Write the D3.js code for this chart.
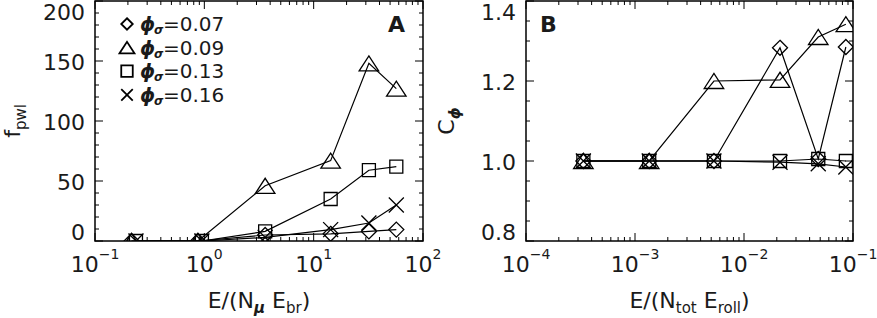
<!DOCTYPE html>
<html>
<head>
<meta charset="utf-8">
<script src="https://cdn.jsdelivr.net/npm/d3@7"></script>
<style>
  body { margin: 0; background: #fff; }
  svg { display: block; }
  text { font-family: "DejaVu Sans", "Liberation Sans", sans-serif; fill: #1a1a1a; }
</style>
</head>
<body>
<svg width="877" height="318"></svg>
<script>
// ---- data ----
var phiLabels = ["0.07", "0.09", "0.13", "0.16"];
var markerTypes = ["diamond", "triangle", "square", "cross"];

// panel A : f_pwl vs E/(N_mu E_br)
var xA_lo = [0.216, 0.874, 3.6, 14.3, 32, 57];
var xA_hi = [0.237, 0.95, 3.6, 14.3, 32, 57];
var fA_007 = [0, 0, 5, 6, 8, 9.5];
var fA_009 = [0, 0, 46, 67, 148, 127];
var fA_013 = [0, 0, 8, 35, 59, 62];
var fA_016 = [0, 0, 3, 9.5, 15, 30];

// panel B : C_phi vs E/(N_tot E_roll)
var xB = [3.36e-4, 1.35e-3, 5.3e-3, 0.0214, 0.048, 0.086];
var cB_007 = [1.0, 1.0, 1.0, 1.283, 1.005, 1.285];
var cB_009 = [1.0, 1.0, 1.2, 1.203, 1.31, 1.342];
var cB_013 = [1.0, 1.0, 1.0, 1.0, 1.005, 1.0];
var cB_016 = [1.0, 1.0, 1.0, 0.997, 0.993, 0.985];

var svg = d3.select("svg");

// marker paths, s = overall size
function markerPath(type, s) {
  var h = s / 2;
  if (type == "diamond") return "M0," + (-h) + "L" + h + ",0L0," + h + "L" + (-h) + ",0Z";
  if (type == "triangle") return "M" + (-h * 1.3) + "," + h + "L0," + (-h) + "L" + (h * 1.3) + "," + h + "Z";
  if (type == "square") return "M" + (-h) + "," + (-h) + "h" + s + "v" + s + "h" + (-s) + "Z";
  return "M" + (-h) + "," + (-h) + "L" + h + "," + h + "M" + (-h) + "," + h + "L" + h + "," + (-h);
}
var markerSize = {diamond: 15, triangle: 15, square: 13, cross: 15};

function supLabel(sel, exp) {
  sel.append("tspan").text("10");
  sel.append("tspan").attr("dy", -13).attr("font-size", 14).text(exp < 0 ? "\u2212" + (-exp) : exp);
}

function drawPanel(opt) {
  var x = opt.x, y = opt.y;
  var x0 = x.range()[0], x1 = x.range()[1], yb = y.range()[0], yt = y.range()[1];
  var g = svg.append("g");

  var clipId = "clip" + opt.id;
  svg.append("clipPath").attr("id", clipId).append("rect")
    .attr("x", x0).attr("y", yt).attr("width", x1 - x0).attr("height", yb - yt);

  // log x ticks, bottom and top
  x.ticks().forEach(function(t) {
    var lg = Math.log10(t), major = Math.abs(lg - Math.round(lg)) < 1e-9;
    var len = major ? 8 : 4, px = x(t);
    g.append("line").attr("x1", px).attr("x2", px).attr("y1", yb).attr("y2", yb - len).attr("stroke", "#000");
    g.append("line").attr("x1", px).attr("x2", px).attr("y1", yt).attr("y2", yt + len).attr("stroke", "#000");
    if (major) {
      var lab = g.append("text").attr("x", px).attr("y", 272).attr("text-anchor", "middle").attr("font-size", 22);
      supLabel(lab, Math.round(lg));
    }
  });

  // linear y ticks, left and right
  opt.minor.forEach(function(t) {
    var py = y(t);
    var major = opt.major.some(function(m) { return Math.abs(m - t) < 1e-9; });
    var len = major ? 8 : 4;
    g.append("line").attr("x1", x0).attr("x2", x0 + len).attr("y1", py).attr("y2", py).attr("stroke", "#000");
    g.append("line").attr("x1", x1).attr("x2", x1 - len).attr("y1", py).attr("y2", py).attr("stroke", "#000");
  });
  opt.major.forEach(function(t) {
    var py = Math.max(yt + 11.5, Math.min(yb - 9, y(t) + 1));
    g.append("text").attr("x", x0 - 10).attr("y", py).attr("dy", "0.36em")
      .attr("text-anchor", "end").attr("font-size", 22).text(opt.fmt(t));
  });

  // box
  g.append("rect").attr("x", x0).attr("y", yt).attr("width", x1 - x0).attr("height", yb - yt)
    .attr("fill", "none").attr("stroke", "#000").attr("stroke-width", 1.5);

  // series
  var dg = g.append("g").attr("clip-path", "url(#" + clipId + ")");
  opt.series.forEach(function(s) {
    var pts = s.xs.map(function(v, i) { return [x(v), y(s.ys[i])]; });
    dg.append("path").attr("d", d3.line()(pts)).attr("fill", "none")
      .attr("stroke", "#000").attr("stroke-width", 1.2);
    pts.forEach(function(p) {
      dg.append("path").attr("d", markerPath(s.marker, markerSize[s.marker]))
        .attr("transform", "translate(" + p[0] + "," + p[1] + ")")
        .attr("fill", "none").attr("stroke", "#000").attr("stroke-width", 1.3);
    });
  });

  // axis titles
  var xt = g.append("text").attr("x", (x0 + x1) / 2).attr("y", 308).attr("text-anchor", "middle").attr("font-size", 22);
  opt.xTitle.forEach(function(p) {
    var ts = xt.append("tspan").text(p[0]);
    if (p[1]) ts.attr("font-size", 15).attr("dy", 5);
    else if (p[2]) ts.attr("dy", -5);
    if (p[3]) ts.attr("font-weight", "bold").attr("font-style", "italic");
  });
  var yTitle = g.append("text").attr("transform", "translate(" + opt.yTitleX + "," + ((yt + yb) / 2) + ") rotate(-90)")
    .attr("text-anchor", "middle").attr("font-size", 22);
  yTitle.append("tspan").text(opt.yTitle[0]);
  var sub = yTitle.append("tspan").attr("font-size", 15).attr("dy", 6).text(opt.yTitle[1]);
  if (opt.yTitle[2]) sub.attr("font-weight", "bold").attr("font-style", "italic");

  // panel letter
  g.append("text").attr("x", opt.letterX).attr("y", 32).attr("text-anchor", opt.letterAnchor)
    .attr("font-size", 22).attr("font-weight", "bold").text(opt.letter);
  return g;
}

var xScaleA = d3.scaleLog().domain([0.1, 100]).range([95, 423]);
var yScaleA = d3.scaleLinear().domain([0, 200]).range([241, 1]);
var xScaleB = d3.scaleLog().domain([1e-4, 0.1]).range([526, 853]);
var yScaleB = d3.scaleLinear().domain([0.8, 1.4]).range([241, 1]);

var gA = drawPanel({
  id: "A", x: xScaleA, y: yScaleA,
  major: [0, 50, 100, 150, 200], minor: d3.range(0, 201, 10),
  fmt: function(t) { return String(t); },
  series: [
    {xs: xA_lo, ys: fA_007, marker: markerTypes[0]},
    {xs: xA_lo, ys: fA_009, marker: markerTypes[1]},
    {xs: xA_hi, ys: fA_013, marker: markerTypes[2]},
    {xs: xA_hi, ys: fA_016, marker: markerTypes[3]}
  ],
  xTitle: [["E/(N"], ["\u03bc", true, false, true], ["  E", false, true], ["br", true], [")", false, true]],
  yTitle: ["f", "pwl"], yTitleX: 20,
  letter: "A", letterX: 405, letterAnchor: "end"
});

drawPanel({
  id: "B", x: xScaleB, y: yScaleB,
  major: [0.8, 1.0, 1.2, 1.4], minor: d3.range(0, 13).map(function(i) { return 0.8 + i * 0.05; }),
  fmt: d3.format(".1f"),
  series: [
    {xs: xB, ys: cB_007, marker: markerTypes[0]},
    {xs: xB, ys: cB_009, marker: markerTypes[1]},
    {xs: xB, ys: cB_013, marker: markerTypes[2]},
    {xs: xB, ys: cB_016, marker: markerTypes[3]}
  ],
  xTitle: [["E/(N"], ["tot", true], ["  E", false, true], ["roll", true], [")", false, true]],
  yTitle: ["C", "\u03d5", true], yTitleX: 454,
  letter: "B", letterX: 540, letterAnchor: "start"
});

// legend in panel A
var legend = gA.append("g");
phiLabels.forEach(function(lab, i) {
  var cy = 24 + i * 23.6;
  legend.append("path").attr("d", markerPath(markerTypes[i], 11.5))
    .attr("transform", "translate(127," + cy + ")")
    .attr("fill", "none").attr("stroke", "#000").attr("stroke-width", 1.8);
  legend.append("text").attr("x", 140).attr("y", cy + 7).attr("font-size", 19)
    .attr("font-weight", "bold").attr("font-style", "italic").text("\u03d5");
  legend.append("text").attr("x", 154).attr("y", cy + 10).attr("font-size", 12)
    .attr("font-weight", "bold").attr("font-style", "italic").text("\u03c3");
  legend.append("text").attr("x", 163).attr("y", cy + 7).attr("font-size", 20).text("=" + lab);
});
</script>
</body>
</html>
